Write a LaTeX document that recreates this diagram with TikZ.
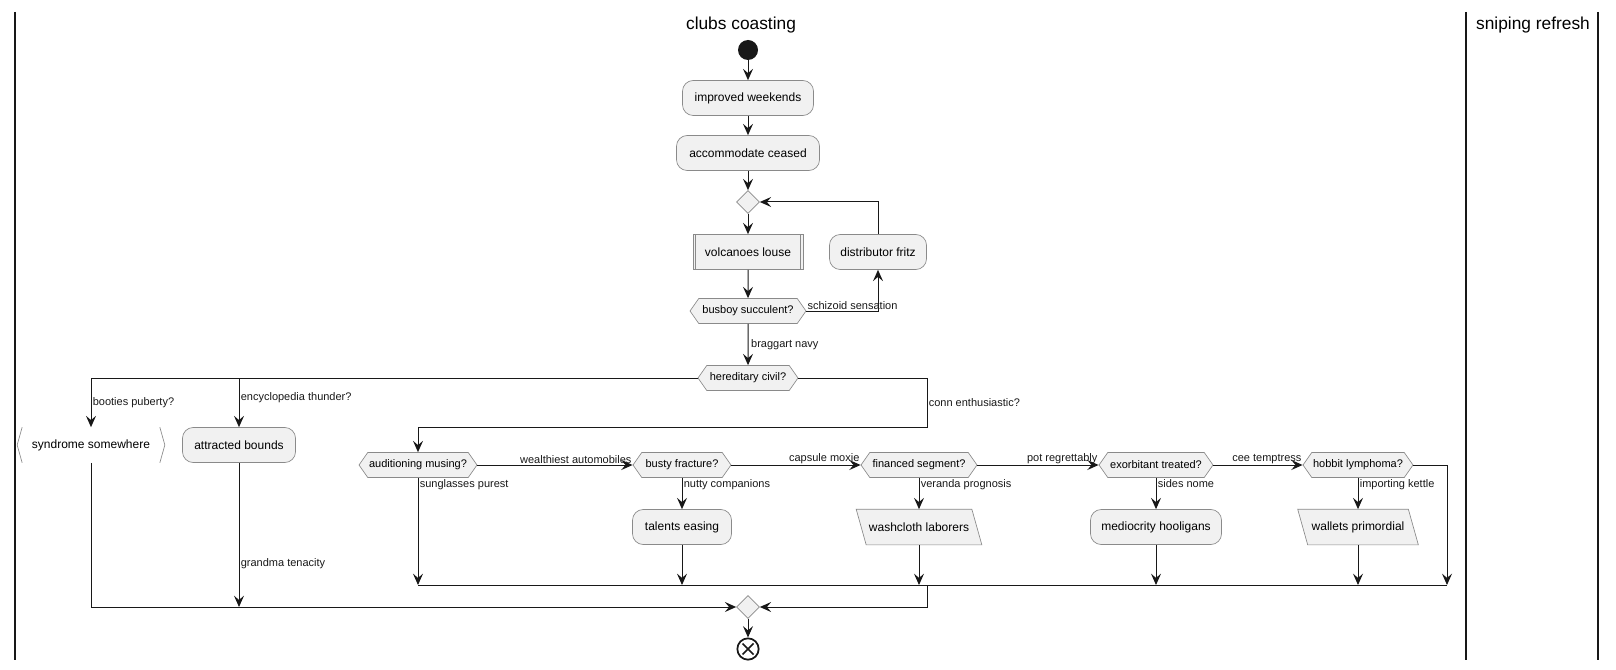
\documentclass[tikz,border=0pt]{standalone}
\usepackage{fontspec}
\setmainfont{Liberation Sans}
\usetikzlibrary{arrows.meta,shapes.geometric,shapes.symbols,backgrounds}
\definecolor{boxfill}{HTML}{F1F1F1}
\definecolor{ink}{HTML}{181818}
\definecolor{rim}{HTML}{8A8A8A}
\tikzset{
  lane/.style={ink, line width=1.1pt},
  lanetitle/.style={font=\fontsize{13}{15}\selectfont, inner sep=0pt},
  act/.style={draw=rim, fill=boxfill, rounded corners=8pt, line width=0.5pt,
    minimum height=26.25pt, inner sep=0pt, font=\fontsize{9}{11}\selectfont},
  sub/.style={act, rounded corners=0pt},
  io/.style={act, draw=none, fill=none},
  recv/.style={act, draw=none, fill=none},
  hexa/.style={signal, signal to=east and west, signal pointer angle=110,
    draw=rim, fill=boxfill, line width=0.5pt, minimum height=18.75pt,
    inner sep=0pt, font=\fontsize{8.25}{10}\selectfont},
  gate/.style={diamond, draw=rim, fill=boxfill, line width=0.5pt,
    minimum size=17.25pt, inner sep=0pt},
  startdot/.style={circle, fill=ink, minimum size=15pt, inner sep=0pt},
  stopdot/.style={circle, draw=ink, line width=1.3pt, minimum size=16pt, inner sep=0pt},
  lbl/.style={font=\fontsize{8.25}{10}\selectfont, inner sep=1pt}
}
\begin{document}
\begin{tikzpicture}[x=0.75pt, y=-0.75pt,
    >={Stealth[length=8.5pt, width=7.5pt, inset=3.2pt]}]
  \useasboundingbox (0,0) rectangle (1616,670);
  % swimlanes
  \draw[lane] (15,12) -- (15,660);
  \draw[lane] (1466,12) -- (1466,660);
  \draw[lane] (1598,12) -- (1598,660);
  \node[lanetitle] (clubs) at (741,25) {clubs coasting};
  \node[lanetitle] (sniping) at (1533,25) {sniping refresh};

  \draw
    (748,50) node[startdot] (start){}
    (748,98) node[act, minimum width=98.25pt] (weekends){improved weekends}
    (748,153) node[act, minimum width=107.25pt] (ceased){accommodate ceased}
    (748,202) node[gate] (loop){}
    (748,252) node[sub, minimum width=82.5pt] (louse){volcanoes louse}
    (878,252) node[act, minimum width=72.75pt] (fritz){distributor fritz}
    (748,311) node[hexa, minimum width=87pt] (busboy){busboy succulent?}
    (748,378) node[hexa, minimum width=75pt] (civil){hereditary civil?}
    (91,445) node[recv, minimum width=110.25pt] (syndrome){syndrome somewhere}
    (239,445) node[act, minimum width=84.75pt] (bounds){attracted bounds}
    (418,465) node[hexa, minimum width=88.5pt] (musing){auditioning musing?}
    (682,465) node[hexa, minimum width=73.5pt] (fracture){busty fracture?}
    (919,465) node[hexa, minimum width=87pt] (segment){financed segment?}
    (1156,465) node[hexa, minimum width=85.5pt] (treated){exorbitant treated?}
    (1358,465) node[hexa, minimum width=82.5pt] (lymphoma){hobbit lymphoma?}
    (682,527) node[act, minimum width=74.25pt] (easing){talents easing}
    (919,527) node[io, minimum width=86.25pt] (laborers){washcloth laborers}
    (1156,527) node[act, minimum width=98.25pt] (hooligans){mediocrity hooligans}
    (1358,527) node[io, minimum width=82.5pt] (primordial){wallets primordial}
    (748,607) node[gate] (merge){}
    (748,649) node[stopdot] (stop){};

  % extra strokes of the special boxes
  \draw[rim, line width=0.5pt]
    ([xshift=2.25pt]louse.north west) -- ([xshift=2.25pt]louse.south west)
    ([xshift=-2.25pt]louse.north east) -- ([xshift=-2.25pt]louse.south east);
  \draw[rim, line width=0.5pt]
    ([xshift=3.75pt]syndrome.north west) -- (syndrome.west) -- ([xshift=3.75pt]syndrome.south west)
    ([xshift=-3.75pt]syndrome.north east) -- (syndrome.east) -- ([xshift=-3.75pt]syndrome.south east);
  \begin{scope}[on background layer]
    \filldraw[draw=rim, fill=boxfill, line width=0.5pt]
      ([xshift=-3.75pt]laborers.north west) -- ([xshift=-3.75pt]laborers.north east)
      -- ([xshift=3.75pt]laborers.south east) -- ([xshift=3.75pt]laborers.south west) -- cycle;
    \filldraw[draw=rim, fill=boxfill, line width=0.5pt]
      ([xshift=-3.75pt]primordial.north west) -- ([xshift=-3.75pt]primordial.north east)
      -- ([xshift=3.75pt]primordial.south east) -- ([xshift=3.75pt]primordial.south west) -- cycle;
  \end{scope}
  \draw[ink, line width=1.3pt] (stop.center) +(-5.5,-5.5) -- +(5.5,5.5) +(-5.5,5.5) -- +(5.5,-5.5);

  \coordinate (connturn) at (927,427);
  \coordinate (barB) at (927,585);
  \coordinate (barBend) at (1447,585);

  \begin{scope}[->, ink, line width=0.75pt]
    \draw (start) -- (weekends);
    \draw (weekends) -- (ceased);
    \draw (ceased) -- (loop);
    \draw (loop) -- (louse);
    \draw (louse) -- (busboy);
    \draw (busboy.east) -| node[lbl, pos=0, anchor=south west, inner sep=0.5pt]{schizoid sensation} (fritz.south);
    \draw (fritz.north) |- (loop.east);
    \draw (busboy) -- node[lbl, anchor=west, xshift=1pt]{braggart navy} (civil);
    \draw (civil.west) -| node[lbl, pos=0.75, anchor=west]{booties puberty?} (syndrome.north);
    \draw (bounds.north |- civil.west) -- node[lbl, pos=0.4, anchor=west]{encyclopedia thunder?} (bounds.north);
    \draw (civil.east) -| node[lbl, pos=0.75, anchor=west]{conn enthusiastic?} (connturn) -| (musing.north);
    \draw (musing.east) -- node[lbl, pos=1, anchor=south east, inner sep=0.5pt]{wealthiest automobiles} (fracture.west);
    \draw (fracture.east) -- node[lbl, pos=1, anchor=south east, inner sep=0.5pt]{capsule moxie} (segment.west);
    \draw (segment.east) -- node[lbl, pos=1, anchor=south east, inner sep=0.5pt]{pot regrettably} (treated.west);
    \draw (treated.east) -- node[lbl, pos=1, anchor=south east, inner sep=0.5pt]{cee temptress} (lymphoma.west);
    \draw (musing.south) -- node[lbl, pos=0, anchor=north west]{sunglasses purest} (musing.south |- barB);
    \draw (fracture.south) -- node[lbl, pos=0, anchor=north west]{nutty companions} (easing.north);
    \draw (segment.south) -- node[lbl, pos=0, anchor=north west]{veranda prognosis} (laborers.north);
    \draw (treated.south) -- node[lbl, pos=0, anchor=north west]{sides nome} (hooligans.north);
    \draw (lymphoma.south) -- node[lbl, pos=0, anchor=north west]{importing kettle} (primordial.north);
    \draw (easing) -- (easing |- barB);
    \draw (laborers) -- (laborers |- barB);
    \draw (hooligans) -- (hooligans |- barB);
    \draw (primordial) -- (primordial |- barB);
    \draw (lymphoma.east) -| (barBend);
    \draw[-] (musing.south |- barB) -- (barBend);
    \draw (barB) |- (merge.east);
    \draw (syndrome.south) |- (merge.west);
    \draw (bounds.south) -- node[lbl, pos=0.7, anchor=west]{grandma tenacity} (bounds.south |- merge.west);
    \draw (merge) -- (stop);
  \end{scope}
\end{tikzpicture}
\end{document}
